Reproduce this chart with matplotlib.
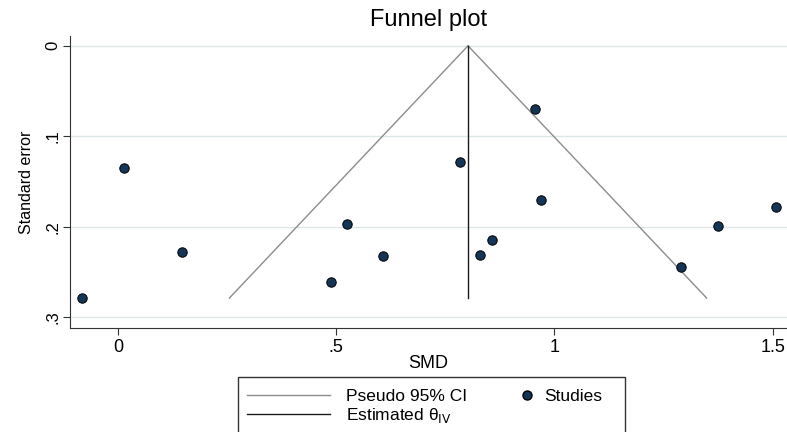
import numpy as np
import matplotlib.pyplot as plt
from matplotlib.lines import Line2D
from matplotlib.patches import Rectangle

# ── Data ──────────────────────────────────────────────────────────────────────
smd = [-0.082, 0.014, 0.147, 0.488, 0.524, 0.607, 0.784, 0.829, 0.857,
       0.955, 0.969, 1.290, 1.375, 1.507]
se = [0.279, 0.135, 0.228, 0.261, 0.197, 0.233, 0.128, 0.231, 0.215,
      0.070, 0.171, 0.245, 0.199, 0.178]
theta_iv = 0.802
se_max = 0.279

xticks = [0, 0.5, 1, 1.5]
xticklabels = ["0", ".5", "1", "1.5"]
yticks = [0, 0.1, 0.2, 0.3]
yticklabels = ["0", ".1", ".2", ".3"]

CI_COL = "#8c8c8c"
EST_COL = "#1a1a1a"
PT_COL = "#153557"

# ── Figure ────────────────────────────────────────────────────────────────────
plt.rcParams["font.family"] = ["Liberation Sans", "DejaVu Sans"]
fig = plt.figure(figsize=(7.87, 4.32), dpi=100)
fig.patch.set_facecolor("white")
ax = fig.add_axes([0.089, 0.241, 0.911, 0.676])

# pseudo 95% CI funnel
se_line = np.array([0.0, se_max])
ax.plot(theta_iv - 1.96 * se_line, se_line, color=CI_COL, lw=1.0)
ax.plot(theta_iv + 1.96 * se_line, se_line, color=CI_COL, lw=1.0)
ax.plot([theta_iv, theta_iv], [0, se_max], color=EST_COL, lw=1.0)

ax.scatter(smd, se, s=46, color=PT_COL, edgecolor="black", lw=0.7, zorder=5)

ax.set_xlim(-0.11, 1.533)
ax.set_ylim(0.312, -0.011)
ax.set_xticks(xticks)
ax.set_xticklabels(xticklabels, fontsize=13)
ax.set_yticks(yticks)
ax.set_yticklabels(yticklabels, fontsize=12, rotation=90, va="center")
ax.grid(axis="y", color="#dde6e8", lw=1.0)
ax.set_axisbelow(True)
for side in ["top", "right"]:
    ax.spines[side].set_visible(False)
for side in ["left", "bottom"]:
    ax.spines[side].set_color("#333333")
ax.tick_params(direction="out", length=5, color="#333333")
ax.tick_params(axis="x", pad=3)
ax.tick_params(axis="y", pad=2)

ax.set_xlabel("SMD", fontsize=13, labelpad=-1)
ax.set_ylabel("Standard error", fontsize=11.5, labelpad=8)
ax.set_title("Funnel plot", fontsize=17, pad=7)

# ── Legend (Stata-style box, two columns) ─────────────────────────────────────
line_handles = [Line2D([], [], color=CI_COL, lw=1.0),
                Line2D([], [], color=EST_COL, lw=1.0)]
line_labels = ["Pseudo 95% CI", "Estimated θ$_{\\mathrm{IV}}$"]
fig.legend(line_handles, line_labels, loc="upper left",
           bbox_to_anchor=(247 / 787, 1 - 389 / 432), fontsize=12.5,
           frameon=False, handlelength=4.8, handletextpad=0.9,
           borderpad=0, borderaxespad=0, labelspacing=0.12)
fig.legend([Line2D([], [], ls="", marker="o", ms=6.5, mfc=PT_COL, mec="black")],
           ["Studies"], loc="upper left",
           bbox_to_anchor=(518 / 787, 1 - 389 / 432), fontsize=12.5,
           frameon=False, handlelength=1.0, handletextpad=0.5,
           borderpad=0, borderaxespad=0)
fig.add_artist(Rectangle((238 / 787, -0.05), (625 - 238) / 787,
                         1 - 377 / 432 + 0.05, transform=fig.transFigure,
                         fill=False, ec="#333333", lw=1.0, clip_on=False))

fig.savefig("out.png", dpi=100, facecolor="white")
